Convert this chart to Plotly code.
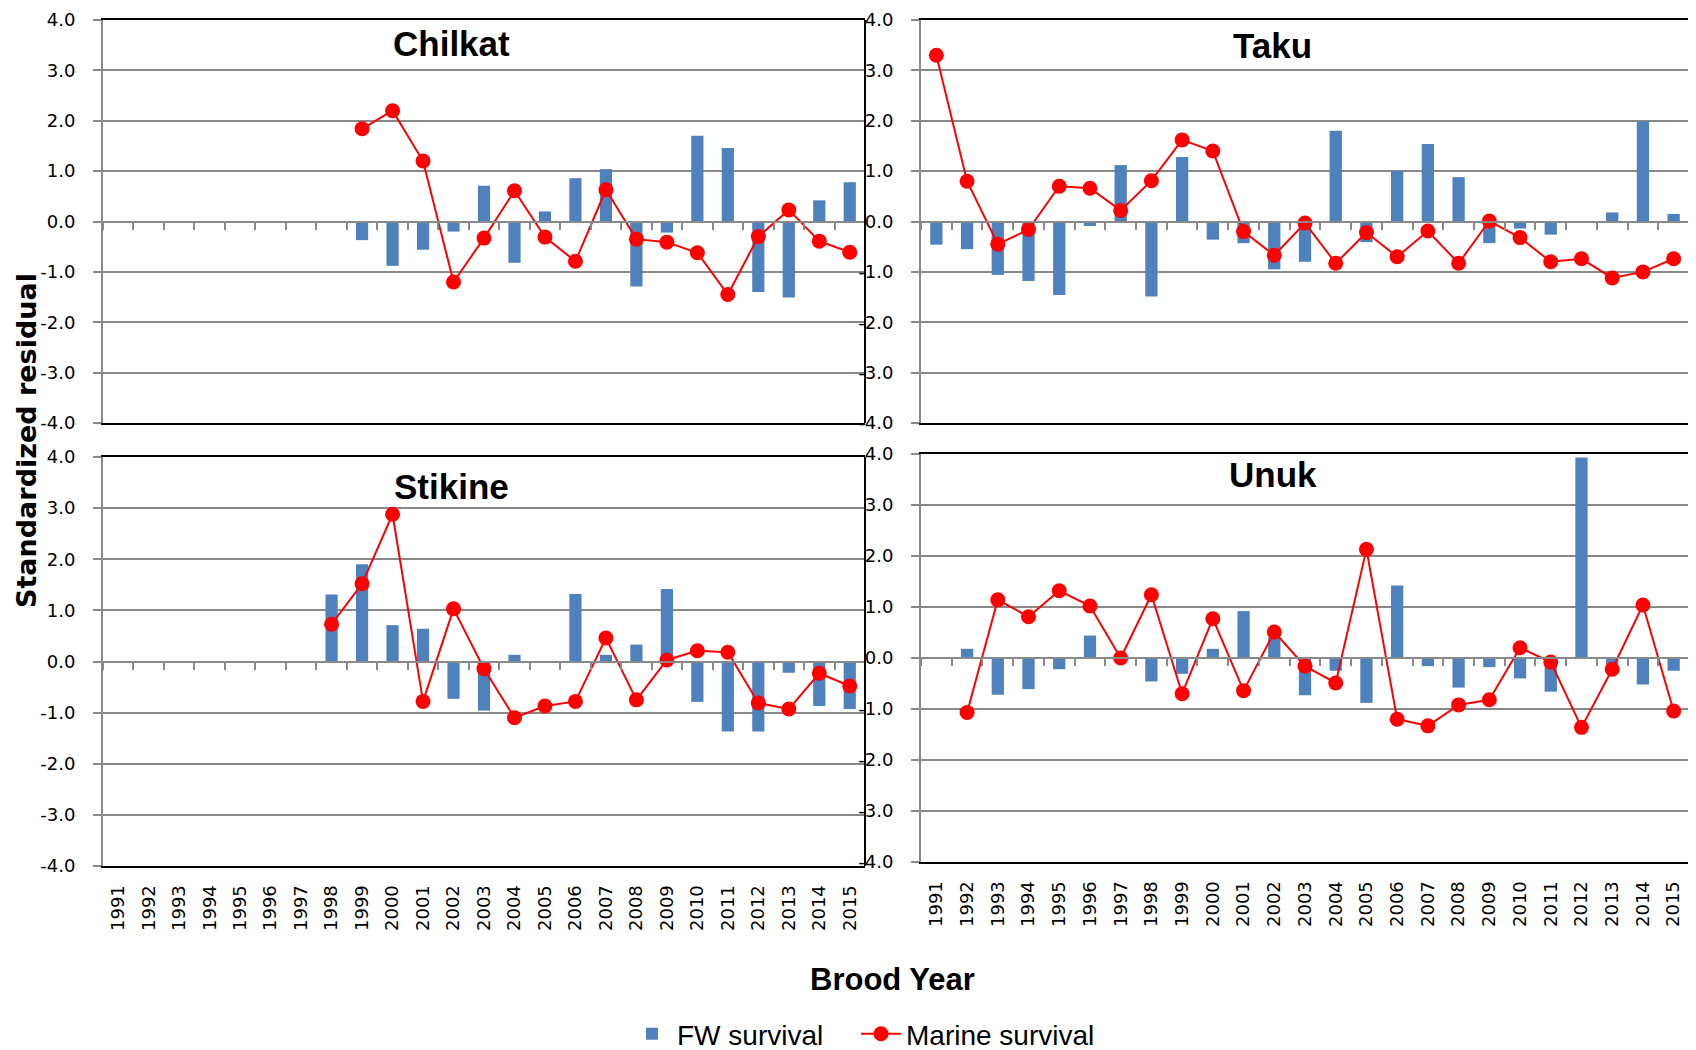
import plotly.graph_objects as go

years = [str(y) for y in range(1991, 2016)]

panel_names = ["Chilkat", "Taku", "Stikine", "Unuk"]

N = None
chilkat_fw = [N, N, N, N, N, N, N, N, -0.37, -0.88, -0.56, -0.20, 0.71, -0.82, 0.20, 0.86, 1.04,
              -1.29, -0.22, 1.70, 1.46, -1.40, -1.51, 0.42, 0.78]
chilkat_marine = [N, N, N, N, N, N, N, N, 1.84, 2.20, 1.20, -1.20, -0.33, 0.61, -0.31, -0.79, 0.63,
                  -0.35, -0.41, -0.62, -1.45, -0.30, 0.23, -0.39, -0.61]

taku_fw = [-0.46, -0.55, -1.06, -1.18, -1.46, -0.09, 1.12, -1.49, 1.28, -0.36, -0.43, -0.95, -0.80,
           1.80, -0.41, 1.00, 1.54, 0.88, -0.43, -0.14, -0.26, 0.0, 0.18, 1.99, 0.15]
taku_marine = [3.30, 0.80, -0.45, -0.16, 0.70, 0.66, 0.22, 0.81, 1.62, 1.40, -0.20, -0.67, -0.03,
               -0.83, -0.22, -0.70, -0.19, -0.83, 0.01, -0.32, -0.80, -0.74, -1.12, -1.00, -0.74]

stikine_fw = [N, N, N, N, N, N, N, 1.31, 1.90, 0.71, 0.64, -0.73, -0.96, 0.13, -0.03, 1.32, 0.13,
              0.33, 1.42, -0.79, -1.37, -1.37, -0.22, -0.87, -0.93]
stikine_marine = [N, N, N, N, N, N, N, 0.73, 1.52, 2.88, -0.78, 1.03, -0.14, -1.10, -0.87, -0.78,
                  0.46, -0.75, 0.03, 0.21, 0.18, -0.81, -0.93, -0.23, -0.48]

unuk_fw = [N, 0.18, -0.72, -0.61, -0.22, 0.44, 0.0, -0.46, -0.31, 0.18, 0.92, 0.40, -0.73, -0.25,
           -0.88, 1.42, -0.16, -0.58, -0.18, -0.40, -0.66, 3.93, -0.12, -0.52, -0.25]
unuk_marine = [N, -1.07, 1.14, 0.81, 1.32, 1.02, 0.00, 1.24, -0.70, 0.77, -0.64, 0.51, -0.16, -0.49,
               2.13, -1.20, -1.33, -0.92, -0.82, 0.20, -0.08, -1.36, -0.22, 1.04, -1.04]

fw_series = [chilkat_fw, taku_fw, stikine_fw, unuk_fw]
marine_series = [chilkat_marine, taku_marine, stikine_marine, unuk_marine]

y_ticks = [-4, -3, -2, -1, 0, 1, 2, 3, 4]
y_ticktext = ["%.1f" % v for v in y_ticks]

BAR_COLOR = "#4F81BD"
LINE_COLOR = "#FF0000"
GRID = "#898989"
TICK_FONT = "DejaVu Sans"
LABEL_FONT = "Liberation Sans, Arial, sans-serif"

# figure size (page body has an 8px margin; overflow beyond the window is cut)
W, H = 1700, 1060
OFF = 8

def px_x(p):
    return (p - OFF) / W

def px_y(p):
    return 1 - (p - OFF) / H

# panel boxes in screen pixels -> paper fractions
domains = [
    ([px_x(103), px_x(865)], [px_y(423), px_y(20)]),
    ([px_x(921), px_x(1689)], [px_y(423), px_y(20)]),
    ([px_x(103), px_x(865)], [px_y(866), px_y(457)]),
    ([px_x(921), px_x(1689)], [px_y(862), px_y(454)]),
]
title_y = [0.941, 0.937, 0.928, 0.950]

fig = go.Figure()
layout = {}
shapes = []
annotations = []

for i in range(4):
    n = i + 1
    sfx = "" if n == 1 else str(n)
    ov = str(n + 4)
    xd, yd = domains[i]
    fig.add_trace(go.Bar(
        x=years, y=fw_series[i], name="FW survival",
        marker=dict(color=BAR_COLOR, line=dict(width=0)),
        xaxis="x" + sfx, yaxis="y" + sfx,
        showlegend=(i == 0), legendgroup="fw", legend="legend",
    ))
    fig.add_trace(go.Scatter(
        x=years, y=marine_series[i], name="Marine survival",
        mode="lines+markers",
        line=dict(color=LINE_COLOR, width=2),
        marker=dict(color=LINE_COLOR, size=15, symbol="circle"),
        connectgaps=False,
        xaxis="x" + ov, yaxis="y" + sfx,
        showlegend=(i == 0), legendgroup="marine", legend="legend2",
    ))
    bottom = i >= 2
    layout["xaxis" + sfx] = dict(
        domain=xd, anchor="y" + sfx, type="category",
        categoryorder="array", categoryarray=years,
        range=[-0.5, len(years) - 0.5],
        showline=True, linecolor="black", linewidth=2, mirror=True,
        showgrid=False, zeroline=False, ticks="",
        showticklabels=bottom, tickangle=-90,
        tickfont=dict(family=TICK_FONT, size=18, color="black"),
        ticklabelstandoff=10, automargin=False, ticklabeloverflow="allow",
    )
    layout["xaxis" + ov] = dict(
        overlaying="x" + sfx, anchor="free", position=(yd[0] + yd[1]) / 2,
        domain=xd, type="category",
        categoryorder="array", categoryarray=years,
        range=[-0.5, len(years) - 0.5],
        showline=True, linecolor=GRID, linewidth=2,
        ticks="outside", ticklen=7, tickwidth=1.5, tickcolor=GRID,
        tickson="boundaries", showticklabels=False,
        showgrid=False, zeroline=False, automargin=False,
    )
    layout["yaxis" + sfx] = dict(
        domain=yd, anchor="x" + sfx, range=[-4, 4],
        tickvals=y_ticks, ticktext=y_ticktext,
        showgrid=True, gridcolor=GRID, gridwidth=2,
        zeroline=False,
        showline=True, linecolor=GRID, linewidth=2,
        ticks="outside", ticklen=8, tickwidth=1.5, tickcolor=GRID,
        tickfont=dict(family=TICK_FONT, size=18, color="black"),
        ticklabelstandoff=14, automargin=False, ticklabeloverflow="allow",
    )
    shapes.append(dict(
        type="line", xref="x" + sfx + " domain", yref="y" + sfx + " domain",
        x0=1, x1=1, y0=0, y1=1, line=dict(color="black", width=2), layer="above",
    ))
    annotations.append(dict(
        text="<b>" + panel_names[i] + "</b>",
        xref="x" + sfx + " domain", yref="y" + sfx + " domain",
        x=0.458, y=title_y[i], xanchor="center", yanchor="middle",
        showarrow=False, font=dict(family=LABEL_FONT, size=35, color="black"),
    ))

annotations.append(dict(
    text="<b>Standardized residual</b>", xref="paper", yref="paper",
    x=px_x(27), y=px_y(441), xanchor="center", yanchor="middle", textangle=-90,
    showarrow=False, font=dict(family="DejaVu Sans", size=27, color="black"),
))
annotations.append(dict(
    text="<b>Brood Year</b>", xref="paper", yref="paper",
    x=px_x(892), y=px_y(979), xanchor="center", yanchor="middle",
    showarrow=False, font=dict(family=LABEL_FONT, size=31, color="black"),
))

legend_common = dict(
    orientation="h", yanchor="middle", y=px_y(1034), xanchor="left",
    font=dict(family=LABEL_FONT, size=28, color="black"),
    itemwidth=40, bgcolor="rgba(0,0,0,0)",
)

fig.update_layout(
    template="none",
    width=W, height=H, autosize=False,
    margin=dict(l=0, r=0, t=0, b=0, pad=0),
    paper_bgcolor="white", plot_bgcolor="white",
    bargap=0.6,
    shapes=shapes, annotations=annotations,
    legend=dict(x=px_x(627), **legend_common),
    legend2=dict(x=px_x(856), **legend_common),
    **layout,
)

fig.write_html("out.html")
